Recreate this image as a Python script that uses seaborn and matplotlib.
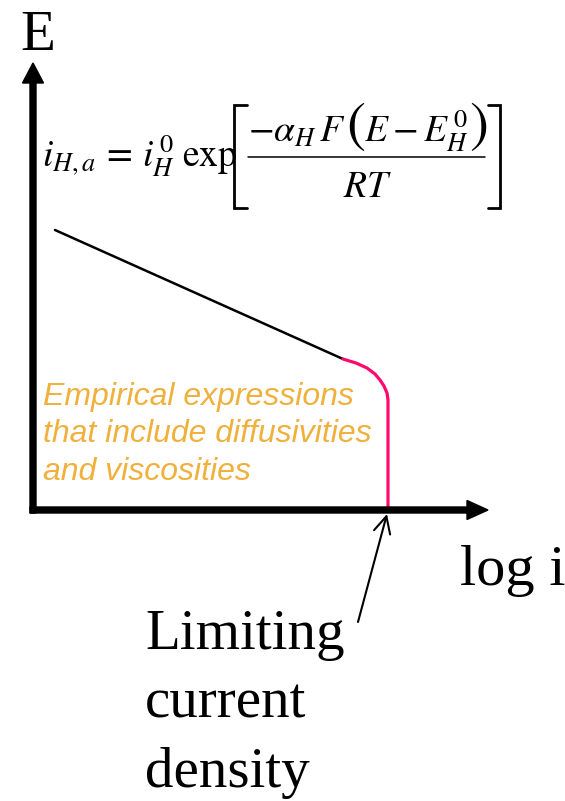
import matplotlib
matplotlib.use("Agg")
import matplotlib.pyplot as plt
import seaborn as sns
import pandas as pd

sns.set_theme(style="white")
plt.rcParams["font.family"] = ["Liberation Serif", "DejaVu Serif"]
plt.rcParams["mathtext.fontset"] = "stix"

# Polarization curve: E versus log i (schematic units)
tafel_log_i = [0.22, 3.10]
tafel_E = [2.80, 1.51]

limit_log_i = [3.10, 3.23, 3.34, 3.42, 3.47, 3.51, 3.54, 3.55, 3.55, 3.55]
limit_E = [1.51, 1.47, 1.42, 1.36, 1.30, 1.24, 1.17, 1.10, 1.05, 0.00]

tafel = pd.DataFrame({"log_i": tafel_log_i, "E": tafel_E})
limit = pd.DataFrame({"log_i": limit_log_i, "E": limit_E})

fig = plt.figure(figsize=(5.65, 8.01), dpi=100)
ax = fig.add_axes([0, 0, 1, 1])
ax.set_xlim(-0.33, 5.32)
ax.set_ylim(-2.91, 5.10)
ax.axis("off")


def px(x, y):
    """Convert canvas pixel position to data coordinates."""
    return ((x - 33) / 100.0, (510 - y) / 100.0)


# Axes with arrowheads
ax.arrow(0, -0.03, 0, 4.50, width=0.06, head_width=0.21, head_length=0.20,
         length_includes_head=True, color="black", zorder=3)
ax.arrow(-0.03, 0, 4.58, 0, width=0.06, head_width=0.19, head_length=0.21,
         length_includes_head=True, color="black", zorder=3)

sns.lineplot(data=tafel, x="log_i", y="E", sort=False, estimator=None,
             color="black", linewidth=1.8, ax=ax, zorder=2)
sns.lineplot(data=limit, x="log_i", y="E", sort=False, estimator=None,
             color="#FF0A6C", linewidth=2.3, ax=ax, zorder=2)
ax.set_xlabel("")
ax.set_ylabel("")

ax.text(*px(20, 50), "E", fontsize=41, color="black", ha="left", va="baseline")
ax.text(*px(460, 585), "log i", fontsize=42, color="black", ha="left", va="baseline")

# Tafel expression for the anodic hydrogen current
eq_size = 27
ax.text(*px(42, 167), r"$i_{H,a}\,=\,i_H^{\,0}\;\mathrm{exp}$",
        fontsize=eq_size, color="black", ha="left", va="baseline")
ax.text(*px(248, 142), r"$-\alpha_H\,F$", fontsize=eq_size, color="black",
        ha="left", va="baseline")
ax.text(*px(356, 141), r"$($", fontsize=41, color="black", ha="center", va="baseline")
ax.text(*px(364, 142), r"$E-E_H^{\,0}$", fontsize=eq_size, color="black",
        ha="left", va="baseline")
ax.text(*px(478, 141), r"$)$", fontsize=41, color="black", ha="center", va="baseline")
ax.text(*px(368, 197), r"$RT$", fontsize=eq_size, color="black",
        ha="center", va="baseline")
ax.plot(*zip(px(248, 157), px(485, 157)), color="black", lw=1.1)
ax.plot(*zip(px(247, 105), px(234, 105), px(234, 208), px(247, 208)),
        color="black", lw=2.0, solid_joinstyle="miter")
ax.plot(*zip(px(488, 105), px(500, 105), px(500, 208), px(488, 208)),
        color="black", lw=2.0, solid_joinstyle="miter")

orange = "#F0B03C"
for yb, line in zip([405, 442, 480],
                    ["Empirical expressions", "that include diffusivities", "and viscosities"]):
    ax.text(*px(43, yb), line, fontsize=23, color=orange, style="italic",
            family=["Liberation Sans", "DejaVu Sans"], ha="left", va="baseline")

for yb, line in zip([649, 718, 787], ["Limiting", "current", "density"]):
    ax.text(*px(145, yb), line, fontsize=41, color="black", ha="left", va="baseline")

ax.annotate("", xy=px(387, 514), xytext=px(358, 622),
            arrowprops=dict(arrowstyle="->,head_length=0.6,head_width=0.3",
                            lw=1.5, color="black", shrinkA=0, shrinkB=0,
                            mutation_scale=20))

fig.savefig("out.png", dpi=100)
